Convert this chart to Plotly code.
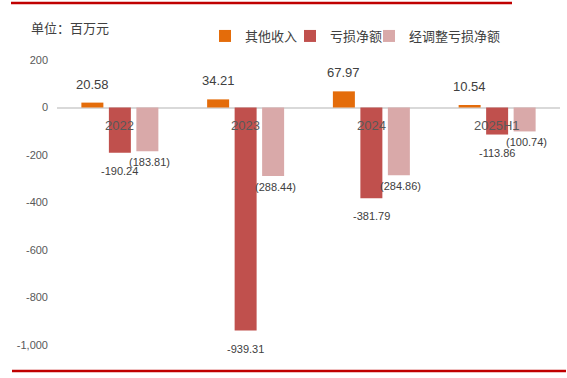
import plotly.graph_objects as go

categories = ["2022", "2023", "2024", "2025H1"]
other_income = [20.58, 34.21, 67.97, 10.54]
net_loss = [-190.24, -939.31, -381.79, -113.86]
adj_net_loss = [-183.81, -288.44, -284.86, -100.74]
tick_vals = [200, 0, -200, -400, -600, -800, -1000]
tick_text = ["200", "0", "-200", "-400", "-600", "-800", "-1,000"]

names = ["其他收入", "亏损净额", "经调整亏损净额"]
colors = ["#E46C0A", "#C0504D", "#D9A9A9"]

FONT = "Liberation Sans, Noto Sans CJK SC, sans-serif"
CJK = "Noto Sans CJK SC, sans-serif"

legend_ids = ["legend", "legend2", "legend3"]
legend_left_px = [205, 290, 369]

fig = go.Figure()
for name, vals, col, lg in zip(names, [other_income, net_loss, adj_net_loss], colors, legend_ids):
    fig.add_trace(go.Bar(x=categories, y=vals, name=name, marker_color=col,
                         marker_line_width=0, legend=lg))

ann = []
# category labels just under the zero line
for i, c in enumerate(categories):
    ann.append(dict(x=i, y=0, xref="x", yref="y", text=c, showarrow=False,
                    yanchor="top", yshift=-8, font=dict(size=13, color="#595959", family=FONT)))
# orange value labels
for i, v in enumerate(other_income):
    ann.append(dict(x=i - 0.218, y=v, xref="x", yref="y", text=f"{v:.2f}", showarrow=False,
                    yanchor="bottom", yshift=9, font=dict(size=13, color="#404040", family=FONT)))
for i, v in enumerate(net_loss):
    ann.append(dict(x=i, y=v, xref="x", yref="y", text=f"{v:.2f}", showarrow=False,
                    yanchor="top", yshift=-10, font=dict(size=11, color="#404040", family=FONT)))
for i, v in enumerate(adj_net_loss):
    ann.append(dict(x=i + 0.218, y=v, xref="x", yref="y", text=f"({abs(v):.2f})", showarrow=False,
                    yanchor="top", yshift=-3, xshift=2, font=dict(size=11, color="#404040", family=FONT)))
ann.append(dict(x=(29 - 57) / 503, y=(345 - 27) / 285, xref="paper", yref="paper",
                text="单位：百万元", showarrow=False, xanchor="left", yanchor="middle",
                font=dict(size=13, color="#404040", family=CJK)))

legend_common = dict(orientation="h", xanchor="left", y=(345 - 36) / 285, yanchor="middle",
                     font=dict(size=13, color="#404040", family=CJK),
                     itemwidth=30, bgcolor="rgba(0,0,0,0)")

fig.update_layout(
    width=567, height=378,
    margin=dict(l=57, r=7, t=60, b=33, autoexpand=False),
    paper_bgcolor="white", plot_bgcolor="white",
    barmode="group", bargap=0.344, bargroupgap=0.2,
    font=dict(family=FONT, color="#404040"),
    showlegend=True,
    legend=dict(x=(legend_left_px[0] - 57) / 503, **legend_common),
    legend2=dict(x=(legend_left_px[1] - 57) / 503, **legend_common),
    legend3=dict(x=(legend_left_px[2] - 57) / 503, **legend_common),
    xaxis=dict(showticklabels=False, showline=False, showgrid=False, ticks="",
               range=[-0.5, 3.5]),
    yaxis=dict(range=[-1000, 200], tickvals=tick_vals, ticktext=tick_text,
               showgrid=False, showline=False, zeroline=True, zerolinecolor="#D9D9D9",
               zerolinewidth=2, ticks="", ticklabelstandoff=8,
               tickfont=dict(size=11, color="#595959", family=FONT)),
    annotations=ann,
    shapes=[
        dict(type="line", xref="paper", yref="paper", x0=(11 - 57) / 503, x1=(512 - 57) / 503,
             y0=(345 - 3) / 285, y1=(345 - 3) / 285, line=dict(color="#C00000", width=2.5)),
        dict(type="line", xref="paper", yref="paper", x0=(12 - 57) / 503, x1=(566 - 57) / 503,
             y0=(345 - 371) / 285, y1=(345 - 371) / 285, line=dict(color="#C00000", width=2.5)),
    ],
)

fig.write_html("out.html", config={"displayModeBar": False},
               post_script="document.body.style.margin='0';")
